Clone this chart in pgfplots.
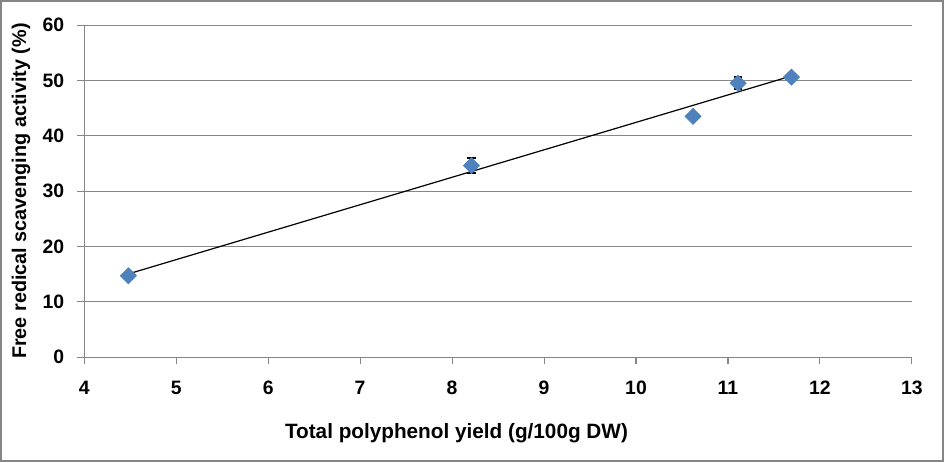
\documentclass[border=0pt]{standalone}
\usepackage{pgfplots}
\pgfplotsset{compat=1.18}
\usepackage{fontspec}
\setmainfont{Liberation Sans}
\definecolor{ptblue}{HTML}{4F81BD}
\definecolor{gridgray}{HTML}{868686}
\begin{document}
\begin{tikzpicture}
\begin{axis}[
  scale only axis,
  width=618.75pt, height=248.25pt,
  xmin=4, xmax=13, ymin=0, ymax=60,
  xtick={4,5,...,13}, ytick={0,10,...,60},
  axis lines*=left,
  axis line style={gridgray, line width=0.8pt},
  tick style={gridgray, line width=0.8pt},
  tick align=outside,
  major tick length=5.5pt,
  ymajorgrids,
  grid style={gridgray, line width=0.8pt},
  ticklabel style={font=\fontsize{14.5pt}{17pt}\selectfont\bfseries},
  /pgf/number format/assume math mode=true,
  xticklabel style={yshift=-9pt},
  yticklabel style={xshift=-6pt},
  xlabel={Total polyphenol yield (g/100g DW)},
  ylabel={Free redical scavenging activity (\%)},
  label style={font=\fontsize{15.5pt}{18pt}\selectfont\bfseries},
  xlabel style={at={(rel axis cs:0.4497,-0.2296)}, anchor=center},
  ylabel style={at={(rel axis cs:-0.0764,0.5)}, anchor=center, font=\fontsize{14.8pt}{18pt}\selectfont\bfseries},
  clip=false,
]
\addplot[black, line width=0.9pt, forget plot] coordinates {(4.48,15.04) (11.69,50.8)};
\addplot[only marks, mark=square*, mark size=4.3pt, mark options={fill=ptblue, draw=ptblue, rotate=45},
  error bars/.cd, y dir=both, y explicit,
  error bar style={black, line width=1.2pt},
  error mark options={black, line width=1.6pt, mark size=3.2pt, rotate=90}]
  coordinates {
  (4.48,14.7) +- (0,0.5)
  (8.21,34.6) +- (0,1.35)
  (10.62,43.5) +- (0,0)
  (11.11,49.5) +- (0,1.1)
  (11.69,50.6) +- (0,0.6)
  };
\draw[gridgray, line width=1.5pt] (rel axis cs:-0.1006,-0.3142) rectangle (rel axis cs:1.0376,1.0725);
\end{axis}
\end{tikzpicture}
\end{document}
